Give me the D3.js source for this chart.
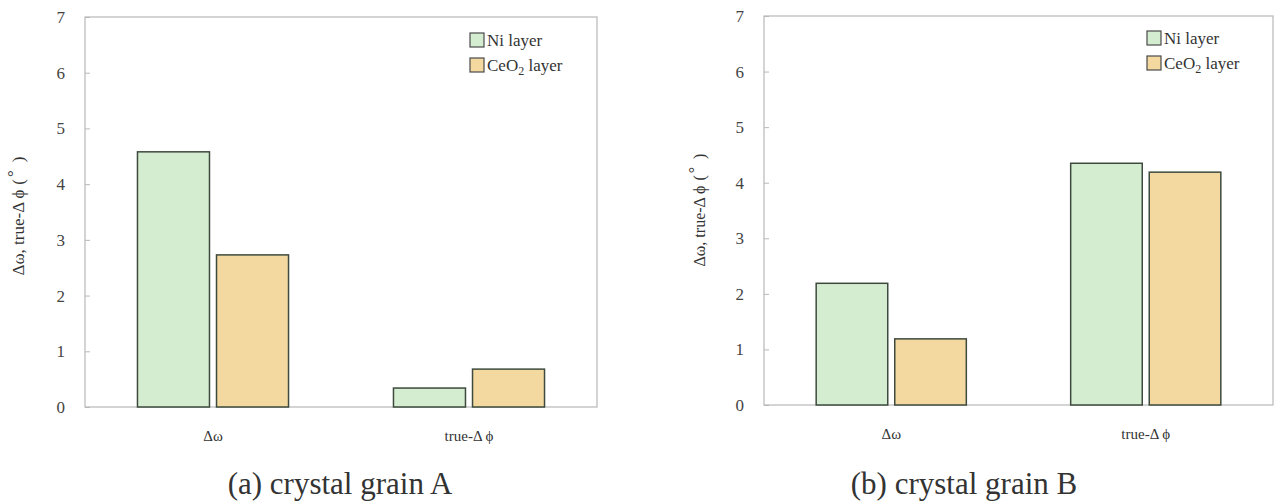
<!DOCTYPE html>
<html>
<head>
<meta charset="utf-8">
<script src="https://cdn.jsdelivr.net/npm/d3@7"></script>
<style>
  html, body { margin: 0; padding: 0; background: #fff; }
  svg, svg text { font-family: "Times New Roman", "Liberation Serif", "DejaVu Serif", serif !important; }
</style>
</head>
<body>
<svg id="chart" width="1276" height="504"></svg>
<script>
// Measurement categories and layers
const categories = ["Δω", "true-Δ ϕ"];
const layers = ["Ni layer", "CeO2 layer"];

// Values in degrees, grain A and grain B
const grainA_Ni = [4.58, 0.34];
const grainA_CeO2 = [2.73, 0.68];
const grainB_Ni = [2.19, 4.35];
const grainB_CeO2 = [1.19, 4.19];

const yTicks = [0, 1, 2, 3, 4, 5, 6, 7];
const panelTitles = ["(a) crystal grain A", "(b) crystal grain B"];

const colors = ["#d4edd1", "#f3d9a0"];
const svg = d3.select("#chart");

function drawPanel(cfg) {
  const { left, right, top, bottom, ni, ceo2, title, titleX, yTitleX, yTitleY, yTitleSize, legendX, legendY } = cfg;
  const g = svg.append("g");

  const y = d3.scaleLinear().domain([0, 7]).range([bottom, top]);
  const x0 = d3.scaleBand().domain(categories).range([left, right]).paddingInner(0).paddingOuter(0);
  const bw = x0.bandwidth();
  const x1 = d3.scaleBand().domain(layers).range([bw * 0.205, bw * 0.795]).paddingInner(0.089).paddingOuter(0);

  // frame
  g.append("rect")
    .attr("x", left).attr("y", top)
    .attr("width", right - left).attr("height", bottom - top)
    .attr("fill", "none").attr("stroke", "#b8b8b8").attr("stroke-width", 1.2);

  // y axis: inward ticks, labels on the left
  const yAxis = d3.axisLeft(y).tickValues(yTicks).tickFormat(d3.format("d")).tickSize(-5).tickPadding(20);
  const ya = g.append("g").attr("transform", `translate(${left},0)`).call(yAxis);
  ya.select(".domain").remove();
  ya.selectAll(".tick line").attr("stroke", "#b8b8b8");
  ya.selectAll(".tick text").attr("fill", "#444").style("font-size", "17px");

  // x axis category labels
  const xa = g.append("g").attr("transform", `translate(0,${bottom})`)
    .call(d3.axisBottom(x0).tickSize(0).tickPadding(23));
  xa.select(".domain").remove();
  xa.selectAll(".tick text").attr("fill", "#333").style("font-size", "15px");

  // bars
  const rows = categories.map((c, i) => ({ cat: c, vals: [ni[i], ceo2[i]] }));
  const grp = g.selectAll(".grp").data(rows).join("g")
    .attr("transform", d => `translate(${x0(d.cat)},0)`);
  grp.selectAll("rect").data(d => d.vals.map((v, j) => ({ layer: layers[j], v, j })))
    .join("rect")
    .attr("x", d => x1(d.layer))
    .attr("y", d => y(d.v))
    .attr("width", x1.bandwidth())
    .attr("height", d => y(0) - y(d.v))
    .attr("fill", d => colors[d.j])
    .attr("stroke", "#3d4a3d").attr("stroke-width", 1.5);

  // y axis title
  const yt = g.append("text")
    .attr("transform", `translate(${yTitleX},${yTitleY}) rotate(-90)`)
    .attr("text-anchor", "middle").style("font-size", yTitleSize + "px").attr("fill", "#333");
  yt.append("tspan").text("Δω, true-Δ ϕ");
  yt.append("tspan").attr("dx", 5).text("(");
  yt.append("tspan").attr("dx", 2).attr("dy", -5).text("°");
  yt.append("tspan").attr("dx", 8).attr("dy", 5).text(")");

  // legend
  const lg = g.append("g").attr("transform", `translate(${legendX},${legendY})`);
  layers.forEach((name, i) => {
    const row = lg.append("g").attr("transform", `translate(0,${i * 25})`);
    row.append("rect").attr("x", 0).attr("y", 0).attr("width", 14).attr("height", 14)
      .attr("fill", colors[i]).attr("stroke", "#4a4a4a").attr("stroke-width", 1.2);
    const t = row.append("text").attr("x", 17).attr("y", 13).style("font-size", "17px").attr("fill", "#333");
    if (name === "CeO2 layer") {
      t.append("tspan").text("CeO");
      t.append("tspan").style("font-size", "12px").attr("dy", 4).text("2");
      t.append("tspan").attr("dy", -4).text(" layer");
    } else {
      t.text(name);
    }
  });

  // panel caption
  svg.append("text").attr("x", titleX).attr("y", 494).attr("text-anchor", "middle")
    .style("font-size", "31px").attr("fill", "#333").text(title);
}

drawPanel({ left: 85, right: 597, top: 17, bottom: 407, ni: grainA_Ni, ceo2: grainA_CeO2,
  title: panelTitles[0], titleX: 340, yTitleX: 24, yTitleY: 216, yTitleSize: 17, legendX: 470, legendY: 33 });
drawPanel({ left: 764, right: 1273, top: 16, bottom: 405, ni: grainB_Ni, ceo2: grainB_CeO2,
  title: panelTitles[1], titleX: 964, yTitleX: 705, yTitleY: 210, yTitleSize: 16, legendX: 1147, legendY: 31 });
</script>
</body>
</html>
